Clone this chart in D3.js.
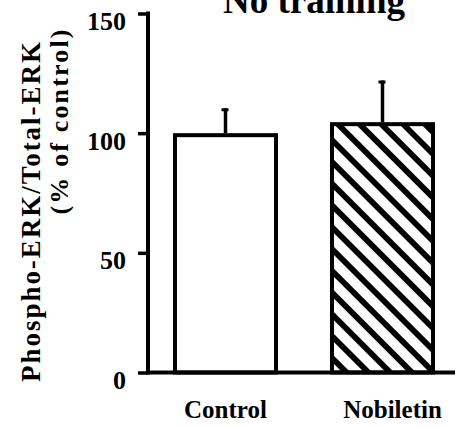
<!DOCTYPE html>
<html>
<head>
<meta charset="utf-8">
<script src="https://cdn.jsdelivr.net/npm/d3@7/dist/d3.min.js"></script>
<style>
  html, body { margin: 0; padding: 0; background: #fff; }
  svg { display: block; }
</style>
</head>
<body>
<svg id="chart" width="459" height="427"></svg>
<script>
// ---- data ----
const categories = ["Control", "Nobiletin"];
const means = [100, 104.6];
const errors = [10.4, 17.4];
const yTicks = [0, 50, 100, 150];
const titleText = "No training";
const yTitle1 = "Phospho-ERK/Total-ERK";
const yTitle2 = "(% of control)";

const SERIF = "Liberation Serif";
const svg = d3.select("#chart");

const y = d3.scaleLinear().domain([0, 150]).range([372.5, 13.5]);
const x = d3.scaleBand().domain(categories).range([147, 461])
  .paddingInner(0.331).paddingOuter(0.1655);

// hatch pattern
const defs = svg.append("defs");
const pat = defs.append("pattern")
  .attr("id", "hatch")
  .attr("patternUnits", "userSpaceOnUse")
  .attr("width", 15.4).attr("height", 15.4)
  .attr("patternTransform", "rotate(45)");
pat.append("rect").attr("width", 15.4).attr("height", 15.4).attr("fill", "#fff");
pat.append("rect").attr("x", 0).attr("y", 0).attr("width", 15.4).attr("height", 5.8).attr("fill", "#000");

const fills = ["#fff", "url(#hatch)"];

// error bars
const eg = svg.append("g");
categories.forEach((c, i) => {
  const cx = x(c) + x.bandwidth() / 2;
  eg.append("line")
    .attr("x1", cx).attr("x2", cx)
    .attr("y1", y(means[i])).attr("y2", y(means[i] + errors[i]))
    .attr("stroke", "#000").attr("stroke-width", 3.5);
  eg.append("line")
    .attr("x1", cx - 4).attr("x2", cx + 3)
    .attr("y1", y(means[i] + errors[i]) + 1.5).attr("y2", y(means[i] + errors[i]) + 1.5)
    .attr("stroke", "#000").attr("stroke-width", 3);
});

// bars
svg.append("g").selectAll("rect")
  .data(categories)
  .join("rect")
  .attr("x", d => x(d) + 2)
  .attr("y", (d, i) => y(means[i]) + 2)
  .attr("width", x.bandwidth() - 4)
  .attr("height", (d, i) => y(0) - y(means[i]) - 2)
  .attr("fill", (d, i) => fills[i])
  .attr("stroke", "#000")
  .attr("stroke-width", 4);

// x baseline
svg.append("line")
  .attr("x1", 146).attr("x2", 455)
  .attr("y1", y(0)).attr("y2", y(0))
  .attr("stroke", "#000").attr("stroke-width", 4);

// y axis
const yAxis = svg.append("g")
  .attr("transform", "translate(148,0)")
  .call(d3.axisLeft(y).tickValues(yTicks).tickFormat(d3.format("d")).tickSize(10).tickSizeOuter(0).tickPadding(12));
yAxis.attr("font-family", SERIF);
yAxis.select(".domain").attr("stroke", "#000").attr("stroke-width", 4)
  .attr("d", `M0,${y(0) + 2}V${y(150) - 2}`);
yAxis.selectAll(".tick line").attr("stroke", "#000").attr("stroke-width", 3.5);
yAxis.selectAll(".tick text")
  .attr("font-size", 26)
  .attr("font-family", SERIF)
  .attr("font-weight", "bold")
  .attr("fill", "#000")
  .attr("dy", "0.62em");

// x labels
svg.append("g").selectAll("text")
  .data(categories)
  .join("text")
  .attr("x", (d, i) => x(d) + x.bandwidth() / 2 + (i === 1 ? 10 : 0))
  .attr("y", 418)
  .attr("text-anchor", "middle")
  .attr("font-family", SERIF)
  .attr("font-weight", "bold")
  .attr("font-size", 25)
  .text(d => d);

// title
svg.append("text")
  .attr("x", 314).attr("y", 13)
  .attr("text-anchor", "middle")
  .attr("font-family", SERIF)
  .attr("font-weight", "bold")
  .attr("font-size", 37)
  .text(titleText);

// y title
svg.append("text")
  .attr("transform", "translate(40,212) rotate(-90)")
  .attr("text-anchor", "middle")
  .attr("font-family", SERIF)
  .attr("font-weight", "bold")
  .attr("font-size", 27)
  .attr("textLength", 340)
  .attr("lengthAdjust", "spacing")
  .text(yTitle1);
svg.append("text")
  .attr("transform", "translate(68,122) rotate(-90)")
  .attr("text-anchor", "middle")
  .attr("font-family", SERIF)
  .attr("font-weight", "bold")
  .attr("font-size", 26)
  .attr("textLength", 185)
  .attr("lengthAdjust", "spacing")
  .text(yTitle2);
</script>
</body>
</html>
